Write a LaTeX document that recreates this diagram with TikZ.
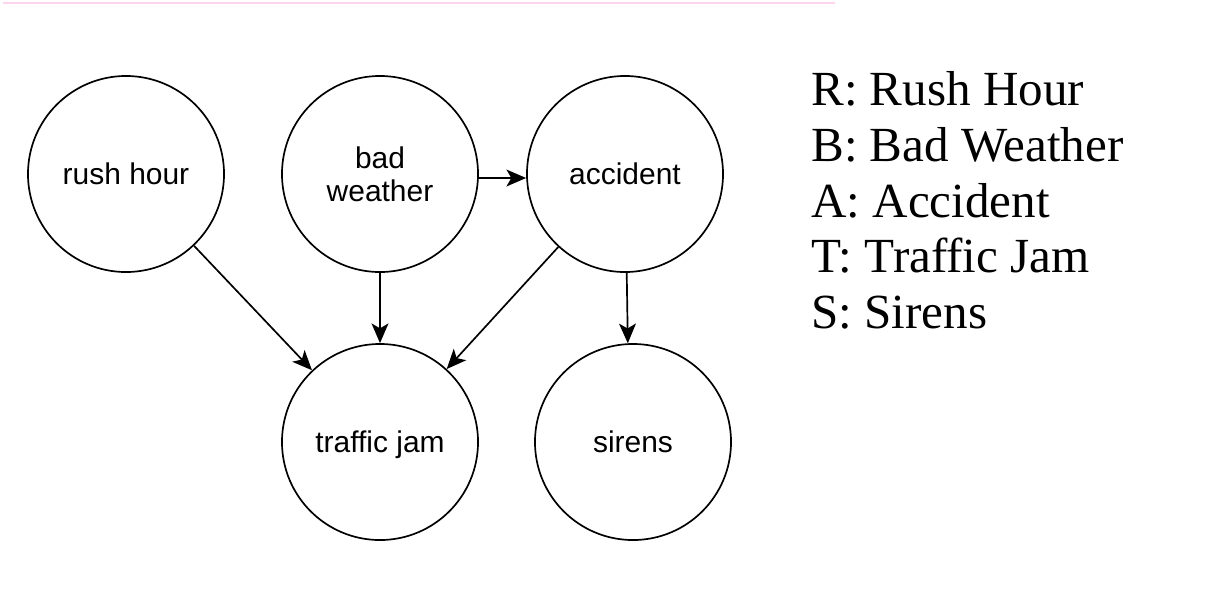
\documentclass[tikz,border=0pt]{standalone}
\usepackage{fontspec}
\setmainfont{Liberation Serif}
\newfontfamily\nodefont{Liberation Sans}
\usetikzlibrary{arrows.meta}

\tikzstyle{vertex}=[circle,draw,line width=1.2pt,minimum size=4.9cm,inner sep=0pt,align=center,font=\nodefont\fontsize{21.3}{23.5}\selectfont]
\tikzstyle{one line} = [text depth=0pt]
\tikzstyle{two lines} = []
\tikzstyle{edge} = [draw,line width=1.2pt,-{Stealth[length=14pt,width=12pt,inset=3.5pt]}]
\tikzstyle{legend} = [anchor=base west,inner sep=0pt,font=\fontsize{34.9}{40}\selectfont]
\tikzstyle{topline} = [draw,line width=1.7pt,magenta!17]

\begin{document}
\begin{tikzpicture}[x=0.025cm,y=-0.025cm]
    \useasboundingbox (0,0) rectangle (1212,594);
    \path[topline] (3,3) -- (835,3);
    % Draw the network
    \foreach \pos/\name/\kind/\txt in {{(126,174)/rush/one line/rush hour},
        {(380,174)/bad/two lines/bad\\weather},{(625,174)/acc/one line/accident},
        {(380,442)/jam/one line/traffic jam},{(633,442)/sir/one line/sirens}}
    \node[vertex,\kind] (\name) at \pos {\txt};
    % Connect vertices with edges
    \foreach \source/ \dest in {rush/jam,bad/jam,acc/jam}
    \path[edge] (\source) -- (\dest);
    \path[edge] (bad.east |- 0,178) -- (acc.west |- 0,178);
    \path[edge] (acc.-89) -- (sir.93);
    % Legend
    \foreach \y/\txt in {105/R: Rush Hour,161/B: Bad Weather,217/A: Accident,
        272/T: Traffic Jam,328/S: Sirens}
    \node[legend] (key\y) at (811,\y) {\txt};
\end{tikzpicture}
\end{document}
